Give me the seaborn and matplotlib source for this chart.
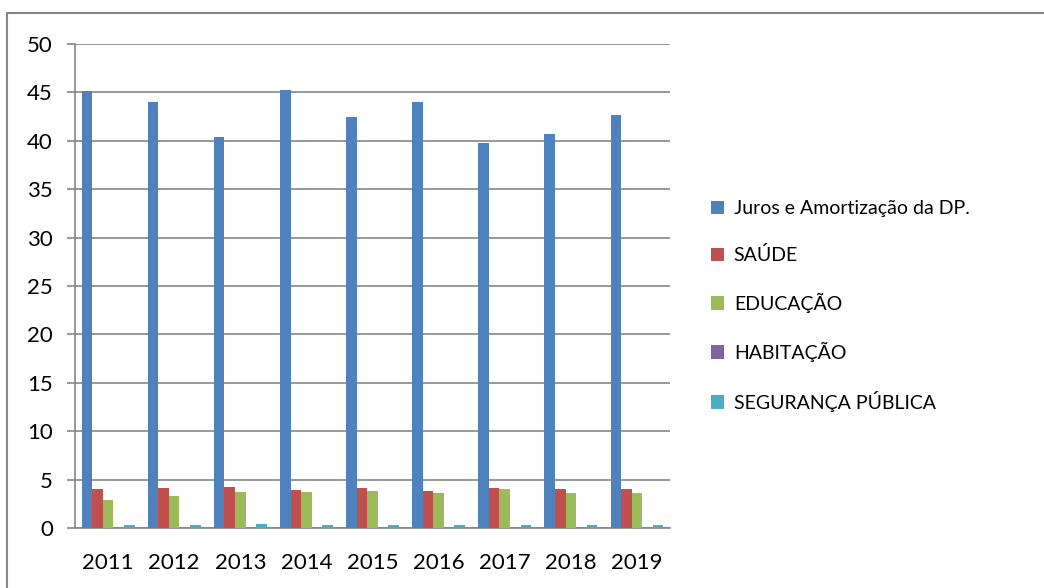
import numpy as np
import pandas as pd
import seaborn as sns
import matplotlib.pyplot as plt
from matplotlib.patches import Rectangle

# --- data ---
years = ["2011", "2012", "2013", "2014", "2015", "2016", "2017", "2018", "2019"]
series = ["Juros e Amortização da DP.", "SAÚDE", "EDUCAÇÃO", "HABITAÇÃO", "SEGURANÇA PÚBLICA"]
juros = [45.1, 44.0, 40.4, 45.2, 42.5, 44.0, 39.8, 40.7, 42.7]
saude = [4.03, 4.13, 4.24, 3.92, 4.10, 3.85, 4.10, 4.03, 4.03]
educacao = [2.9, 3.3, 3.7, 3.7, 3.85, 3.65, 4.06, 3.6, 3.6]
habitacao = [0.0, 0.0, 0.0, 0.0, 0.0, 0.0, 0.0, 0.0, 0.0]
seguranca = [0.35, 0.33, 0.38, 0.33, 0.33, 0.33, 0.35, 0.33, 0.33]
colors = ["#4F81BD", "#C0504D", "#9BBB59", "#8064A2", "#4BACC6"]

# long format for seaborn
rows = []
for name, vals in zip(series, [juros, saude, educacao, habitacao, seguranca]):
    for y, v in zip(years, vals):
        rows.append({"Ano": y, "Valor": v, "Série": name})
df = pd.DataFrame(rows)

sns.set_style("white")
plt.rcParams["font.family"] = ["Lato", "DejaVu Sans"]
plt.rcParams["text.color"] = "black"
plt.rcParams["xtick.labelcolor"] = "black"
plt.rcParams["ytick.labelcolor"] = "black"

fig = plt.figure(figsize=(10.44, 5.88), dpi=100)
ax = fig.add_axes([75 / 1044, 1 - 528 / 588, 595 / 1044, 484 / 588])

sns.barplot(data=df, x="Ano", y="Valor", hue="Série", palette=colors,
            saturation=1, width=0.8, ax=ax, zorder=3, linewidth=0)

ax.set_xlim(-0.5, 8.5)
ax.set_ylim(0, 50)
ax.set_yticks(np.arange(0, 51, 5))
ax.set_xlabel("")
ax.set_ylabel("")

grid_col = "#868686"
ax.yaxis.grid(True, color=grid_col, linewidth=1.2, zorder=0)
ax.xaxis.grid(False)
for side in ["top", "right"]:
    ax.spines[side].set_visible(False)
for side in ["left", "bottom"]:
    ax.spines[side].set_color(grid_col)
    ax.spines[side].set_linewidth(1.2)

# ticks between categories like Excel
ax.set_xticks(np.arange(-0.5, 9, 1), minor=True)
ax.tick_params(axis="x", which="minor", length=6, color=grid_col, width=1.2)
ax.tick_params(axis="x", which="major", length=0, pad=18, labelsize=16)
ax.tick_params(axis="y", length=6, color=grid_col, width=1.2, pad=10, labelsize=16, left=True)

leg = ax.legend(loc="center left", bbox_to_anchor=(693 / 1044, 1 - 306 / 588),
                bbox_transform=fig.transFigure, frameon=False, fontsize=14,
                handlelength=0.7, handleheight=0.7, handletextpad=0.5,
                labelspacing=1.48)

# outer chart border
fig.patches.append(Rectangle((7 / 1044, -0.1), 1.2, 1 - 13 / 588 + 0.1,
                             transform=fig.transFigure, fill=False,
                             edgecolor=grid_col, linewidth=1.5))

fig.savefig("out.png", dpi=100)
